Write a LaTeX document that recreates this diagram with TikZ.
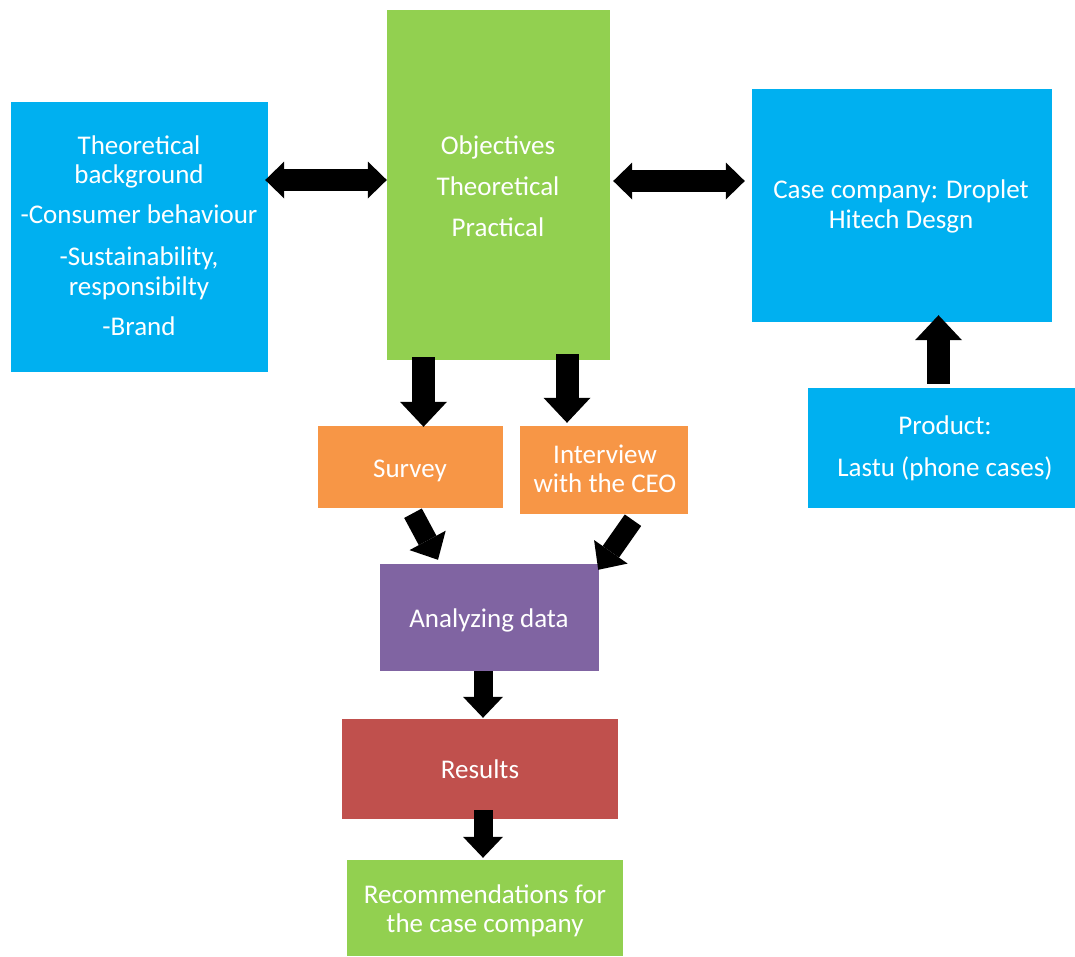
\documentclass[tikz,border=0pt]{standalone}
\usepackage{fontspec}
\setmainfont{Carlito}
\usetikzlibrary{arrows.meta,calc}
\definecolor{cblue}{HTML}{00B0F0}
\definecolor{cgreen}{HTML}{92D050}
\definecolor{corange}{HTML}{F79646}
\definecolor{cpurple}{HTML}{8064A2}
\definecolor{cred}{HTML}{C0504D}
\tikzset{
  box/.style={rectangle, draw=none, fill=#1, inner sep=0pt},
  txt/.style={text=white, font=\fontsize{27}{30}\selectfont, anchor=base, inner sep=0pt},
  dbl/.style={line width=22pt, {Triangle[length=19pt,width=37pt,line width=0pt]}-{Triangle[length=19pt,width=37pt,line width=0pt]}},
  bigdown/.style={line width=23pt, -{Triangle[length=25pt,width=47pt,line width=0pt]}},
  smalldown/.style={line width=19pt, -{Triangle[length=21pt,width=40pt,line width=0pt]}},
  diag/.style={line width=20pt, -{Triangle[length=22pt,width=41pt,line width=0pt]}},
}
\begin{document}
\begin{tikzpicture}[x=1pt,y=1pt]
\useasboundingbox (0,0) rectangle (1075,-956);
% boxes
\node[box=cblue, minimum width=257pt, minimum height=270pt] (theo) at (139.5,-237) {};
\node[box=cgreen, minimum width=223pt, minimum height=350pt] (obj) at (498.5,-185) {};
\node[box=cblue, minimum width=300pt, minimum height=233pt] (case) at (902,-205.5) {};
\node[box=cblue, minimum width=267pt, minimum height=120pt] (prod) at (941.5,-448) {};
\node[box=corange, minimum width=185pt, minimum height=82pt] (survey) at (410.5,-467) {};
\node[box=corange, minimum width=168pt, minimum height=88pt] (inter) at (604,-470) {};
\node[box=cpurple, minimum width=219pt, minimum height=107pt] (ana) at (489.5,-617.5) {};
\node[box=cred, minimum width=276pt, minimum height=100pt] (res) at (480,-769) {};
\node[box=cgreen, minimum width=276pt, minimum height=96pt] (rec) at (485,-908) {};
% texts
\node[txt] (t1) at (139,-154) {Theoretical};
\node[txt] (t2) at (139,-183) {background};
\node[txt] (t3) at (139,-223) {-Consumer behaviour};
\node[txt] (t4) at (139,-265) {-Sustainability,};
\node[txt] (t5) at (139,-295) {responsibilty};
\node[txt] (t6) at (139,-335) {-Brand};
\node[txt] (o1) at (498,-154) {Objectives};
\node[txt] (o2) at (498,-195) {Theoretical};
\node[txt] (o3) at (498,-236) {Practical};
\node[txt] (c1) at (901,-198) {Case company: Droplet};
\node[txt] (c2) at (901,-228) {Hitech Desgn};
\node[txt] (p1) at (945,-434) {Product:};
\node[txt] (p2) at (945,-476) {Lastu (phone cases)};
\node[txt] (s1) at (410,-477) {Survey};
\node[txt] (i1) at (605,-463) {Interview};
\node[txt] (i2) at (605,-492) {with the CEO};
\node[txt] (a1) at (489,-627) {Analyzing data};
\node[txt] (r1) at (480,-778) {Results};
\node[txt] (m1) at (485,-903) {Recommendations for};
\node[txt] (m2) at (485,-932) {the case company};
% arrows
\draw[dbl] ($(theo.east |- obj.west)+(-3,5)$) -- ($(obj.west)+(0,5)$);
\draw[dbl] ($(obj.east)+(3,4)$) -- ($(obj.east -| case.west)+(-7,4)$);
\draw[bigdown] ($(obj.south -| survey.north)+(13,3)$) -- ($(survey.north)+(13,-1)$);
\draw[bigdown] ($(obj.south -| inter.north)+(-37,6)$) -- ($(inter.north)+(-37,3)$);
\draw[bigdown] ($(prod.north)+(-3,4)$) -- ($(prod.north |- case.south)+(-3,7)$);
\draw[diag] ($(survey.south)+(2.5,-5)$) -- ($(ana.north)+(-51.5,4)$);
\draw[diag] ($(inter.south)+(29,-6)$) -- ($(ana.north east)+(-1,-6)$);
\draw[smalldown] ($(ana.south)+(-6.5,0)$) -- ($(res.north)+(3,1)$);
\draw[smalldown] ($(res.south)+(3,9)$) -- ($(rec.north)+(-2,2)$);
\end{tikzpicture}
\end{document}
